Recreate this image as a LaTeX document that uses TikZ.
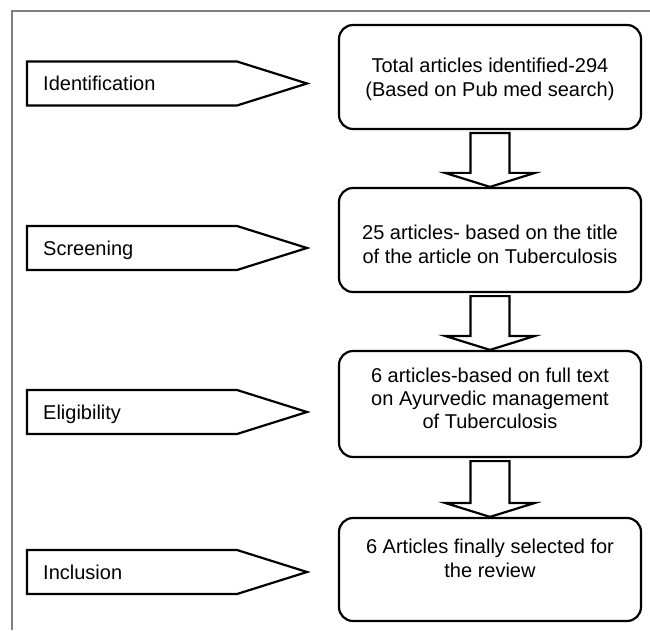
\documentclass[tikz,border=0pt]{standalone}
\usepackage{fontspec}
\setmainfont{Liberation Sans}
\usetikzlibrary{calc}
\newcommand\hollowarrow[2]{%
  \draw[bigarrow] ($(#1.south)+(-19.5,-3)$) -- ($(#2.north)+(-19.5,14)$) -- ($(#2.north)+(-45,14)$) -- (#2.north) -- ($(#2.north)+(45,14)$) -- ($(#2.north)+(19.5,14)$) -- ($(#1.south)+(19.5,-3)$) -- cycle;}
\begin{document}
\begin{tikzpicture}[x=1pt,y=1pt,
  boxnode/.style={draw, line width=2.2pt, rounded corners=14pt, minimum width=302pt, minimum height=104pt, inner sep=0pt},
  boxtext/.style={align=center, font=\fontsize{20}{24}\selectfont, inner sep=0pt},
  stagetext/.style={anchor=base west, font=\fontsize{20}{24}\selectfont, inner sep=0pt},
  stageshape/.style={draw, line width=2.2pt, line join=miter},
  bigarrow/.style={draw, line width=2.2pt, fill=white, line join=miter},
  frame/.style={draw=gray, line width=1.5pt}]
\useasboundingbox (0,0) rectangle (650,630);
\draw[frame] (12,0) -- (12,619) -- (650,619);

% boxes
\node[boxnode, minimum height=104pt] (b1) at (490,553) {};
\node[boxtext] (t1) at (490,550.6) {Total articles identified-294\\(Based on Pub med search)};
\node[boxnode, minimum height=104pt] (b2) at (490,390) {};
\node[boxtext] (t2) at (490,385.2) {25 articles- based on the title\\of the article on Tuberculosis};
\node[boxnode, minimum height=106pt] (b3) at (490,226) {};
\node[boxtext, font=\fontsize{20}{23}\selectfont] (t3) at (490,232) {6 articles-based on full text\\on Ayurvedic management\\of Tuberculosis};
\node[boxnode, minimum height=103pt] (b4) at (490,60.5) {};
\node[boxtext] (t4) at (490,72) {6 Articles finally selected for\\the review};

% hollow arrows
\hollowarrow{b1}{b2}
\hollowarrow{b2}{b3}
\hollowarrow{b3}{b4}

% stage labels
\foreach \nm/\yy/\txt in {s1/546.5/Identification, s2/382/Screening, s3/218/Eligibility, s4/58/Inclusion}{
  \draw[stageshape] (27,{\yy+22}) -- (237,{\yy+22}) -- (307,\yy) -- (237,{\yy-22}) -- (27,{\yy-22}) -- cycle;
  \node[stagetext] (\nm) at (43,{\yy-7.2}) {\txt};
}
\end{tikzpicture}
\end{document}
